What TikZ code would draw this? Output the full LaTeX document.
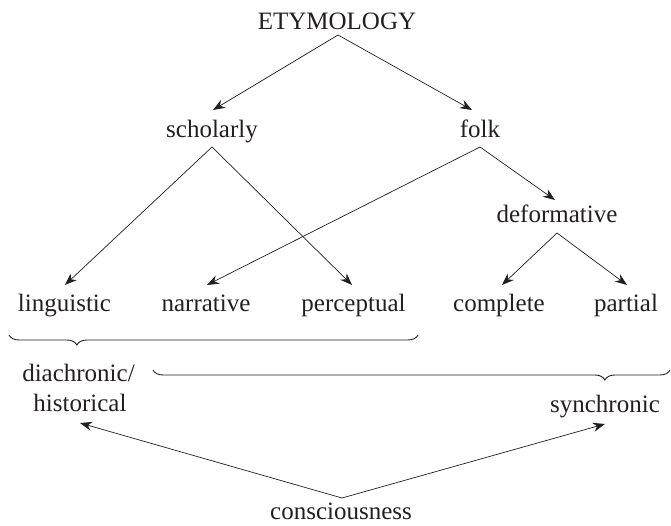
\documentclass[tikz,border=0pt]{standalone}
\usepackage{fontspec}
\setmainfont{Liberation Serif}
\usetikzlibrary{arrows.meta,decorations.pathreplacing}
\definecolor{ink}{HTML}{231F20}
\begin{document}
\begin{tikzpicture}[x=1pt,y=1pt,
  lbl/.style={anchor=base,inner sep=0pt,font=\fontsize{25}{30}\selectfont,text=ink},
  arr/.style={draw=ink,line width=0.7pt,-{Stealth[length=12pt,width=9pt]}},
  brc/.style={draw=ink,line width=0.9pt,decorate,decoration={brace,mirror,amplitude=10pt}}]
\useasboundingbox (0,0) rectangle (671,526);
% nodes
\node[lbl] (ety) at (337,496) {ETYMOLOGY};
\node[lbl] (sch) at (212,388) {scholarly};
\node[lbl] (folk) at (480,388) {folk};
\node[lbl] (def) at (557,303) {deformative};
\node[lbl] (lin) at (64.5,214) {linguistic};
\node[lbl] (nar) at (206,214) {narrative};
\node[lbl] (per) at (353.5,214) {perceptual};
\node[lbl] (com) at (499,214) {complete};
\node[lbl] (par) at (626,214) {partial};
\node[lbl] (dia) at (78.5,144) {diachronic/};
\node[lbl] (his) at (80,114) {historical};
\node[lbl] (syn) at (605,113) {synchronic};
\node[lbl] (con) at (341,6) {consciousness};
% connector points
\coordinate (etyS) at (338,491);
\coordinate (schN) at (213,416);
\coordinate (folkN) at (472,416);
\coordinate (schS) at (212,379);
\coordinate (folkS) at (480,379);
\coordinate (linN) at (65,241);
\coordinate (perN) at (352,241);
\coordinate (narN) at (207,241);
\coordinate (defN) at (555,326);
\coordinate (defS) at (557,293);
\coordinate (comN) at (502,241);
\coordinate (parN) at (627,241);
\coordinate (conN) at (342,28);
\coordinate (hisS) at (80,103);
\coordinate (synS) at (605,102);
% arrows
\draw[arr] (etyS) -- (schN);
\draw[arr] (etyS) -- (folkN);
\draw[arr] (schS) -- (linN);
\draw[arr] (schS) -- (perN);
\draw[arr] (folkS) -- (narN);
\draw[arr] (folkS) -- (defN);
\draw[arr] (defS) -- (comN);
\draw[arr] (defS) -- (parN);
\draw[arr] (conN) -- (hisS);
\draw[arr] (conN) -- (synS);
% braces
\coordinate (b1a) at (9,191);
\coordinate (b1b) at (418,191);
\coordinate (b2a) at (153,156);
\coordinate (b2b) at (670,156);
\draw[brc,decoration={aspect=0.166}] (b1a) -- (b1b);
\draw[brc,decoration={aspect=0.874}] (b2a) -- (b2b);
\end{tikzpicture}
\end{document}
